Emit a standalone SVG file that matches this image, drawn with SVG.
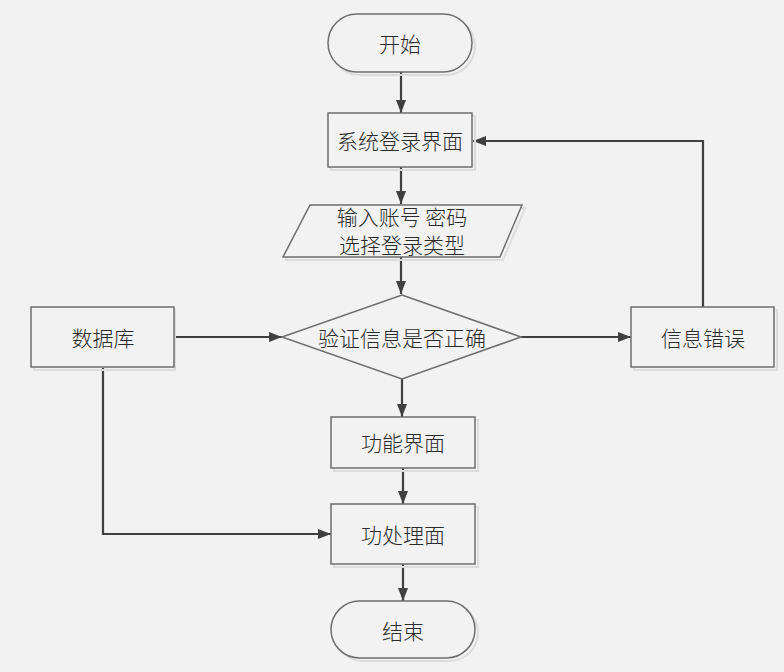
<svg xmlns="http://www.w3.org/2000/svg" width="784" height="672" viewBox="0 0 784 672">
<defs>
<marker id="arr" viewBox="0 0 13 10" refX="13" refY="5" markerWidth="13" markerHeight="10" markerUnits="userSpaceOnUse" orient="auto">
<path d="M0,0 L13,5 L0,10 Z" fill="#404040"/>
</marker>
</defs>
<style>
.shape{fill:#f2f2f2;stroke:#6e6e6e;stroke-width:1.5}
.shadow{fill:none;stroke:#dcdcdc;stroke-width:2}
.conn{fill:none;stroke:#404040;stroke-width:2.2;marker-end:url(#arr)}
text{font-family:"Noto Sans CJK SC","Noto Sans",sans-serif;font-size:21px;fill:#2b2b2b;text-anchor:middle;dominant-baseline:central;font-weight:300}
</style>
<rect width="784" height="672" fill="#f2f2f2"/>
<g id="connectors">
<path class="conn" d="M401,72 L401,113"/>
<path class="conn" d="M401,167 L401,204"/>
<path class="conn" d="M401,257 L401,294"/>
<path class="conn" d="M175,337 L282,337"/>
<path class="conn" d="M521,337 L631,337"/>
<path class="conn" d="M703,307 L703,141 L473,141"/>
<path class="conn" d="M402,379 L402,417"/>
<path class="conn" d="M403,468 L403,504"/>
<path class="conn" d="M103,368 L103,534 L331,534"/>
<path class="conn" d="M403,564 L403,601"/>
</g>
<g id="start">
<rect class="shadow" x="331" y="17" width="144" height="58" rx="29"/>
<rect class="shape" x="328" y="14" width="144" height="58" rx="29"/>
<text x="400" y="43">开始</text>
</g>
<g id="login">
<rect class="shadow" x="331" y="116" width="144" height="54"/>
<rect class="shape" x="328" y="113" width="144" height="54"/>
<text x="400" y="140">系统登录界面</text>
</g>
<g id="input">
<polygon class="shadow" points="313,208 525,208 503,260 286,260"/>
<polygon class="shape" points="310,205 522,205 500,257 283,257"/>
<text x="402" y="216">输入账号 密码</text>
<text x="402" y="244">选择登录类型</text>
</g>
<g id="verify">
<polygon class="shape" points="402,295 521,337 402,379 282,337"/>
<text x="402" y="337">验证信息是否正确</text>
</g>
<g id="database">
<rect class="shadow" x="34" y="310" width="141" height="60"/>
<rect class="shape" x="31" y="307" width="143" height="60"/>
<text x="103" y="337">数据库</text>
</g>
<g id="error">
<rect class="shadow" x="634" y="310" width="143" height="60"/>
<rect class="shape" x="631" y="307" width="143" height="60"/>
<text x="703" y="337">信息错误</text>
</g>
<g id="func">
<rect class="shadow" x="334" y="420" width="144" height="51"/>
<rect class="shape" x="331" y="417" width="144" height="51"/>
<text x="403" y="442">功能界面</text>
</g>
<g id="process">
<rect class="shadow" x="334" y="507" width="144" height="60"/>
<rect class="shape" x="331" y="504" width="144" height="60"/>
<text x="403" y="534">功处理面</text>
</g>
<g id="end">
<rect class="shadow" x="334" y="604" width="144" height="57" rx="28.5"/>
<rect class="shape" x="331" y="601" width="144" height="57" rx="28.5"/>
<text x="403" y="630">结束</text>
</g>
</svg>
